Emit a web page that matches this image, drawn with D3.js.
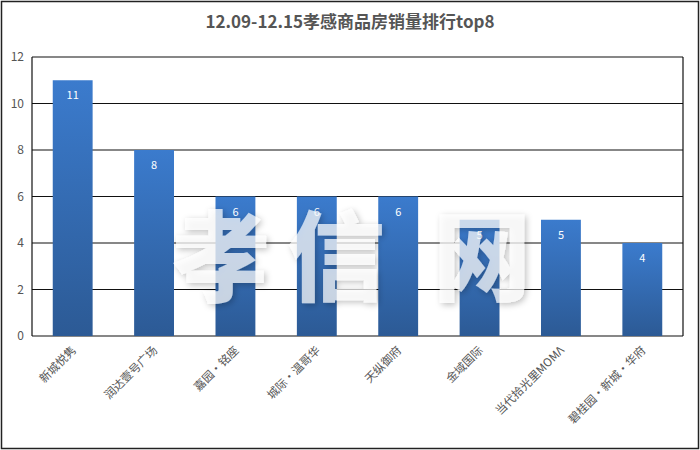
<!DOCTYPE html>
<html><head><meta charset="utf-8">
<script src="https://cdn.jsdelivr.net/npm/d3@7"></script>
<style>body{margin:0;background:#fff}svg{display:block}</style>
</head><body>
<svg id="chart" width="700" height="450"></svg>
<script>
const title = "12.09-12.15孝感商品房销量排行top8";
const categories = ["新城悦隽","润达壹号广场","嘉园・铭座","城际•温哥华","天纵御府","金域国际","当代拾光里MOMΛ","碧桂园・新城・华府"];
const values = [11, 8, 6, 6, 6, 5, 5, 4];
const yTicks = [0, 2, 4, 6, 8, 10, 12];
const watermarkChars = ["孝","信","网"];

const svg = d3.select("#chart");
const font = "'Noto Sans CJK SC','Noto Sans',sans-serif";
svg.append("rect").attr("x",1.5).attr("y",1.5).attr("width",697).attr("height",447)
  .attr("fill","#fff").attr("stroke","#222").attr("stroke-width",1.5);

const defs = svg.append("defs");
const grad = defs.append("linearGradient").attr("id","bg").attr("x1",0).attr("y1",0).attr("x2",0).attr("y2",1);
grad.append("stop").attr("offset","0%").attr("stop-color","#3b7bcd");
grad.append("stop").attr("offset","100%").attr("stop-color","#2c5a95");
const flt = defs.append("filter").attr("id","sh").attr("x","-20%").attr("y","-20%").attr("width","140%").attr("height","140%");
flt.append("feDropShadow").attr("dx",2).attr("dy",2).attr("stdDeviation",3).attr("flood-color","#000").attr("flood-opacity",0.35);

const m = {left:32, right:683, top:57, bottom:336};
const x = d3.scaleBand().domain(categories).range([m.left, m.right]).paddingInner(0.51).paddingOuter(0.255);
const y = d3.scaleLinear().domain([0,12]).range([m.bottom, m.top]);

// gridlines
svg.append("g").selectAll("line").data(yTicks).join("line")
  .attr("x1",m.left).attr("x2",m.right).attr("y1",d=>y(d)).attr("y2",d=>y(d))
  .attr("stroke","#111").attr("stroke-width",1.2);
svg.append("line").attr("x1",m.left).attr("x2",m.left).attr("y1",m.top).attr("y2",m.bottom).attr("stroke","#111").attr("stroke-width",1.2);
svg.append("line").attr("x1",m.right).attr("x2",m.right).attr("y1",m.top).attr("y2",m.bottom).attr("stroke","#111").attr("stroke-width",1.2);

// y axis labels
const ya = svg.append("g").attr("transform",`translate(${m.left},0)`)
  .call(d3.axisLeft(y).tickValues(yTicks).tickSize(0).tickPadding(8));
ya.select(".domain").remove();
ya.selectAll("text").attr("font-family",font).attr("font-size",12).attr("fill","#555");

// bars
svg.append("g").selectAll("rect").data(values).join("rect")
  .attr("x",(d,i)=>x(categories[i])).attr("width",x.bandwidth())
  .attr("y",d=>y(d)).attr("height",d=>m.bottom-y(d)).attr("fill","url(#bg)");
svg.append("g").selectAll("text").data(values).join("text")
  .attr("x",(d,i)=>x(categories[i])+x.bandwidth()/2).attr("y",d=>y(d)+19)
  .attr("text-anchor","middle").attr("font-family",font).attr("font-size",11).attr("fill","#fff").text(d=>d);

// x axis labels
const xa = svg.append("g").attr("transform",`translate(0,${m.bottom})`)
  .call(d3.axisBottom(x).tickSize(0).tickPadding(0));
xa.select(".domain").remove();
xa.selectAll("text").attr("font-family",font).attr("font-size",11.5).attr("fill","#555")
  .attr("text-anchor","end").attr("dy",0).attr("dx",0)
  .attr("transform","translate(4,15) rotate(-45)");

// title
svg.append("text").attr("x",350).attr("y",28).attr("text-anchor","middle")
  .attr("font-family",font).attr("font-weight","bold").attr("font-size",17).attr("fill","#555").text(title);

// watermark
const wm = svg.append("text").attr("y",293).attr("text-anchor","middle")
  .attr("font-family",font).attr("font-weight","900").attr("font-size",98)
  .attr("fill","#fff").attr("fill-opacity",0.7).attr("filter","url(#sh)");
const wmX = [221, 336, 482];
wm.selectAll("tspan").data(watermarkChars).join("tspan").attr("x",(d,i)=>wmX[i]).text(d=>d);
</script>
</body></html>
